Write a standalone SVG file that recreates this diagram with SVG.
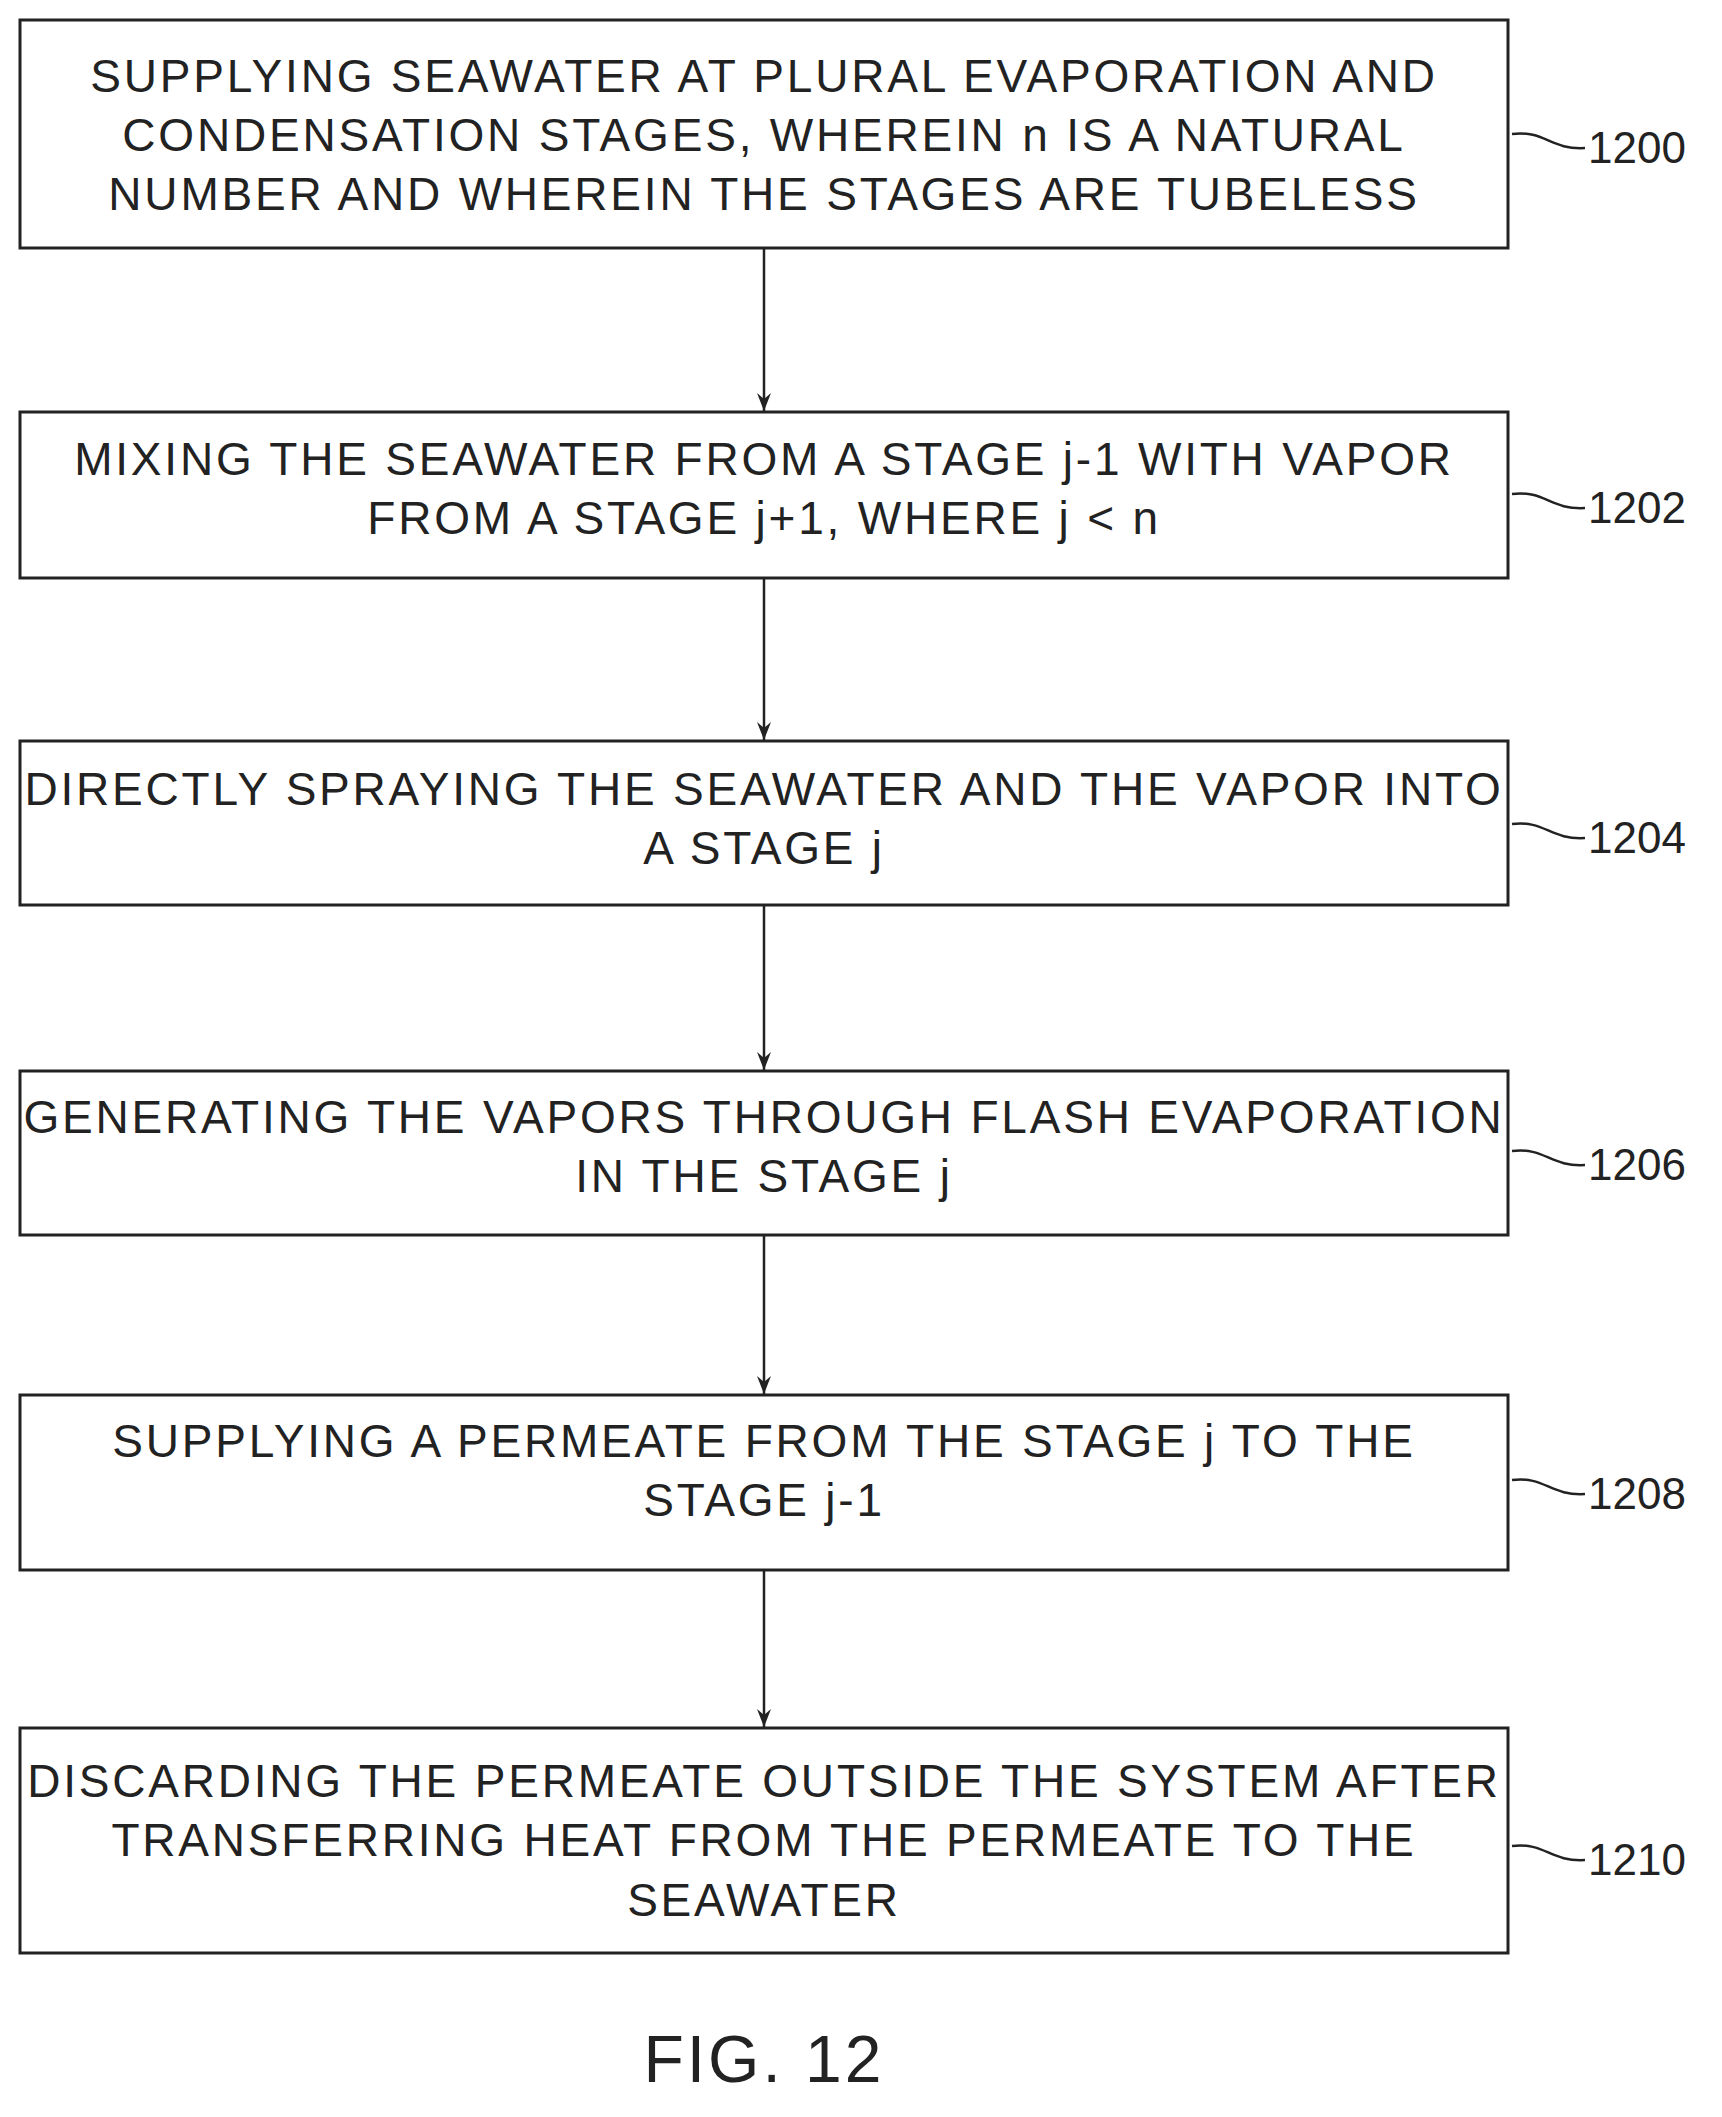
<svg xmlns="http://www.w3.org/2000/svg" width="1722" height="2117" viewBox="0 0 1722 2117">
<style>
.b{fill:#fff;stroke:#222;stroke-width:3}
.t{font-family:"Liberation Sans",Arial,sans-serif;font-size:46px;letter-spacing:2.8px;fill:#222;text-anchor:middle}
.l{font-family:"Liberation Sans",Arial,sans-serif;font-size:44px;fill:#222}
.c{stroke:#222;stroke-width:2.5;fill:none}
</style>
<defs><marker id="a" markerWidth="18" markerHeight="14" refX="18" refY="7" orient="auto" markerUnits="userSpaceOnUse"><path d="M0,0 L18,7 L0,14 L6,7 Z" fill="#222"/></marker></defs>
<rect width="1722" height="2117" fill="#fff"/>
<g id="connectors">
<line class="c" x1="764" y1="248" x2="764" y2="411" marker-end="url(#a)"/>
<line class="c" x1="764" y1="578" x2="764" y2="740" marker-end="url(#a)"/>
<line class="c" x1="764" y1="905" x2="764" y2="1070" marker-end="url(#a)"/>
<line class="c" x1="764" y1="1235" x2="764" y2="1394" marker-end="url(#a)"/>
<line class="c" x1="764" y1="1570" x2="764" y2="1727" marker-end="url(#a)"/>
</g>
<g id="n1200"><rect class="b" x="20" y="20" width="1488" height="228"/>
<text class="t" x="764" y="92">SUPPLYING SEAWATER AT PLURAL EVAPORATION AND</text>
<text class="t" x="764" y="151">CONDENSATION STAGES, WHEREIN n IS A NATURAL</text>
<text class="t" x="764" y="210">NUMBER AND WHEREIN THE STAGES ARE TUBELESS</text>
<path class="c" d="M1512,134 C1545,130 1550,150 1585,148"/><text class="l" x="1588" y="163">1200</text></g>
<g id="n1202"><rect class="b" x="20" y="412" width="1488" height="166"/>
<text class="t" x="764" y="475">MIXING THE SEAWATER FROM A STAGE j-1 WITH VAPOR</text>
<text class="t" x="764" y="534">FROM A STAGE j+1, WHERE j &lt; n</text>
<path class="c" d="M1512,494 C1545,490 1550,510 1585,508"/><text class="l" x="1588" y="523">1202</text></g>
<g id="n1204"><rect class="b" x="20" y="741" width="1488" height="164"/>
<text class="t" x="764" y="805">DIRECTLY SPRAYING THE SEAWATER AND THE VAPOR INTO</text>
<text class="t" x="764" y="864">A STAGE j</text>
<path class="c" d="M1512,824 C1545,820 1550,840 1585,838"/><text class="l" x="1588" y="853">1204</text></g>
<g id="n1206"><rect class="b" x="20" y="1071" width="1488" height="164"/>
<text class="t" x="764" y="1133">GENERATING THE VAPORS THROUGH FLASH EVAPORATION</text>
<text class="t" x="764" y="1192">IN THE STAGE j</text>
<path class="c" d="M1512,1151 C1545,1147 1550,1167 1585,1165"/><text class="l" x="1588" y="1180">1206</text></g>
<g id="n1208"><rect class="b" x="20" y="1395" width="1488" height="175"/>
<text class="t" x="764" y="1457">SUPPLYING A PERMEATE FROM THE STAGE j TO THE</text>
<text class="t" x="764" y="1516">STAGE j-1</text>
<path class="c" d="M1512,1480 C1545,1476 1550,1496 1585,1494"/><text class="l" x="1588" y="1509">1208</text></g>
<g id="n1210"><rect class="b" x="20" y="1728" width="1488" height="225"/>
<text class="t" x="764" y="1797">DISCARDING THE PERMEATE OUTSIDE THE SYSTEM AFTER</text>
<text class="t" x="764" y="1856">TRANSFERRING HEAT FROM THE PERMEATE TO THE</text>
<text class="t" x="764" y="1916">SEAWATER</text>
<path class="c" d="M1512,1846 C1545,1842 1550,1862 1585,1860"/><text class="l" x="1588" y="1875">1210</text></g>
<text class="t" x="764" y="2082" style="font-size:66px;letter-spacing:3px">FIG. 12</text>
</svg>
